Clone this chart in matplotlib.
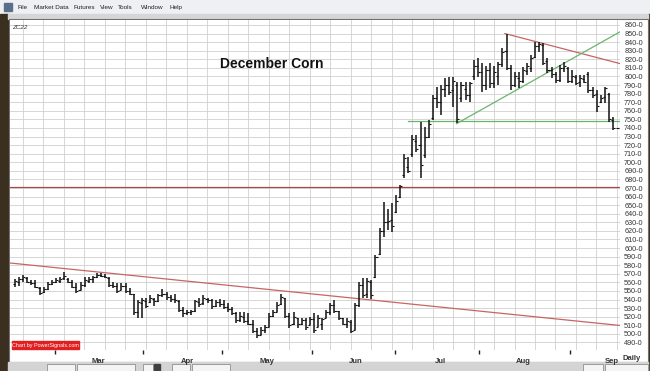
import numpy as np
import matplotlib
matplotlib.use('Agg')
import matplotlib.pyplot as plt
from matplotlib.patches import Rectangle

plt.rcParams['font.family'] = ['Liberation Sans', 'DejaVu Sans']

# Daily OHLC bars, ZCZ2, index = trading day from early Feb
opens = [558, 561, 564, 565, 561, 559, 554, 549, 552, 558, 561, 562, 565, 564, 560, 555, 551, 557, 562, 564,
         566, 569, 567, 565, 557, 556, 551, 556, 550, 547, 526, 536, 538, 537, 541, 538, 545, 547, 543, 541,
         538, 528, 524, 526, 527, 537, 536, 541, 539, 533, 537, 535, 531, 529, 524, 516, 520, 515, 512, 503,
         499, 504, 508, 521, 526, 535, 542, 521, 511, 519, 512, 516, 510, 517, 508, 512, 518, 526, 534, 527,
         518, 512, 514, 505, 534, 557, 546, 561, 566, 593, 620, 630, 633, 642, 660, 685, 694, 710, 725, 720,
         708, 730, 752, 775, 770, 785, 790, 784, 790, 775, 785, 778, 800, 812, 805, 790, 808, 792, 800, 815,
         830, 810, 790, 798, 795, 806, 810, 823, 835, 837, 818, 808, 803, 796, 810, 810, 795, 799, 793, 797,
         803, 784, 780, 770, 776, 780, 749]
highs = [564, 566, 569, 566, 563, 563, 555, 555, 560, 563, 565, 566, 572, 565, 563, 559, 560, 566, 566, 568,
         571, 571, 570, 566, 560, 559, 559, 559, 553, 547, 540, 542, 542, 545, 542, 547, 552, 549, 545, 547,
         540, 531, 528, 528, 540, 542, 545, 542, 541, 540, 541, 540, 536, 531, 525, 525, 525, 524, 516, 507,
         508, 510, 524, 528, 537, 547, 542, 524, 525, 519, 519, 518, 520, 524, 522, 519, 528, 536, 540, 527,
         519, 518, 516, 536, 560, 565, 565, 563, 592, 623, 654, 646, 652, 662, 673, 710, 706, 732, 732, 747,
         741, 749, 778, 788, 790, 798, 799, 799, 794, 794, 793, 794, 819, 822, 816, 812, 816, 812, 817, 833,
         849, 813, 805, 805, 811, 816, 825, 840, 840, 839, 822, 811, 805, 813, 817, 811, 807, 802, 802, 802,
         805, 788, 784, 778, 788, 781, 753]
lows = [555, 556, 561, 559, 557, 553, 545, 548, 551, 557, 559, 559, 563, 559, 553, 548, 551, 555, 559, 559,
        565, 566, 565, 555, 553, 548, 551, 548, 545, 522, 518, 519, 530, 536, 533, 537, 543, 540, 537, 536,
        526, 520, 522, 522, 526, 531, 534, 536, 529, 531, 531, 529, 526, 522, 513, 514, 513, 510, 501, 495,
        499, 501, 508, 520, 526, 534, 518, 507, 510, 507, 510, 504, 510, 501, 508, 504, 518, 522, 524, 516,
        510, 507, 501, 505, 531, 542, 542, 541, 565, 592, 613, 621, 619, 641, 658, 682, 688, 706, 712, 682,
        705, 728, 749, 763, 755, 776, 778, 764, 746, 770, 772, 770, 796, 799, 782, 784, 787, 786, 790, 811,
        808, 784, 788, 787, 792, 802, 805, 822, 829, 813, 804, 798, 792, 794, 805, 792, 792, 790, 788, 792,
        781, 775, 759, 769, 769, 747, 738]
closes = [562, 564, 566, 561, 559, 555, 548, 552, 558, 561, 563, 564, 568, 560, 555, 550, 557, 563, 564, 566,
          569, 568, 566, 557, 556, 550, 556, 550, 547, 525, 537, 539, 533, 542, 538, 545, 547, 543, 541, 539,
          528, 524, 526, 527, 538, 535, 542, 539, 532, 537, 535, 531, 529, 524, 516, 521, 515, 512, 503, 499,
          504, 508, 521, 526, 534, 543, 521, 510, 520, 512, 516, 508, 517, 505, 519, 517, 526, 534, 527, 518,
          512, 515, 503, 534, 557, 545, 562, 545, 590, 620, 630, 632, 626, 655, 672, 705, 690, 727, 715, 697,
          730, 745, 775, 770, 785, 790, 782, 795, 750, 790, 778, 792, 812, 805, 790, 808, 792, 805, 814, 828,
          810, 790, 800, 795, 808, 812, 822, 835, 838, 816, 808, 803, 796, 810, 812, 795, 800, 792, 798, 794,
          784, 778, 765, 775, 786, 750, 740]

# axis labels
price_ticks = list(range(490, 861, 10))
month_names = ['Mar', 'Apr', 'May', 'Jun', 'Jul', 'Aug', 'Sep']
month_idx = [20.3, 42, 61.5, 83.3, 103.8, 124, 145.8]
mid_month_idx = [9.8, 31.3, 50.5, 72.5, 92.8, 113.3, 135.5]

# drawn trend lines (bar index, price)
long_red_x, long_red_y = [-1.2, 147.7], [582.6, 509.8]
top_red_x, top_red_y = [119.6, 147.7], [850, 815]
green_up_x, green_up_y = [107.8, 147.7], [745, 852]
green_flat_x, green_flat_y = [95.9, 147.7], [748, 748]
red_level = 671

W, H = 650, 371
fig = plt.figure(figsize=(W / 100, H / 100), dpi=100)
fig.patch.set_facecolor('#d9d9d9')

# window chrome
bg = fig.add_axes([0, 0, 1, 1])
bg.set_xlim(0, W)
bg.set_ylim(H, 0)
bg.axis('off')
bg.add_patch(Rectangle((0, 0), W, 14, color='#eef0f3'))
bg.add_patch(Rectangle((0, 14), 8, H - 14, color='#3b3020'))
bg.add_patch(Rectangle((648, 14), 2, H - 14, color='#3b3020'))
bg.add_patch(Rectangle((8, 14), 640, 5, color='#d6d6d6'))
bg.add_patch(Rectangle((9, 19), 639, 343, facecolor='white', edgecolor='#707070', lw=0.8))
bg.add_patch(Rectangle((8, 362), 640, 9, color='#d4d4d4'))
for bx, bw in [(47, 28), (77, 58), (143, 10), (172, 18), (192, 38), (583, 20), (605, 43)]:
    bg.add_patch(Rectangle((bx, 364), bw, 8, facecolor='#f4f4f4', edgecolor='#909090', lw=0.6))
bg.add_patch(Rectangle((154, 364), 6, 6, color='#404040'))
bg.add_patch(Rectangle((4, 3), 8, 8, color='#5a6f8a'))
menu = [('File', 17), ('Market Data', 34), ('Futures', 73), ('View', 100), ('Tools', 118),
        ('Window', 141), ('Help', 170)]
for label, mx in menu:
    bg.text(mx, 7.5, label, fontsize=4.6, color='#222222', va='center', ha='left')
bg.text(632, 359, 'Daily', fontsize=5.5, fontweight='bold', color='#333333', va='center', ha='center')

# price chart
ax = fig.add_axes([10 / W, 1 - 350 / H, 610 / W, 330 / H])
ax.set_facecolor('white')
idx = np.arange(len(closes))
ax.set_xlim(-1.22, 147.7)
ax.set_ylim(481.2, 865.8)

for gx in np.arange(1.95, 148, 5):
    ax.axvline(gx, color='#d0d0d0', lw=0.6, zorder=0)
ax.set_yticks(price_ticks)
ax.set_yticklabels([f'{p}-0' for p in price_ticks])
ax.yaxis.tick_right()
ax.grid(axis='y', color='#d0d0d0', lw=0.6, zorder=0)
ax.tick_params(axis='y', length=0, labelsize=5.2, pad=3, labelcolor='#333333')
ax.set_xticks(month_idx)
ax.set_xticklabels(month_names, fontsize=5.5, fontweight='bold', color='#333333')
ax.set_xticks(mid_month_idx, minor=True)
ax.tick_params(axis='x', which='major', length=0, pad=5.5)
ax.tick_params(axis='x', which='minor', length=3, width=1, color='#222222')
for s in ax.spines.values():
    s.set_visible(False)

ax.vlines(idx, lows, highs, color='#111111', lw=1.1, zorder=3)
ax.hlines(opens, idx - 0.5, idx, color='#111111', lw=0.8, zorder=3)
ax.hlines(closes, idx, idx + 0.5, color='#111111', lw=0.8, zorder=3)
ax.hlines(closes[-1], idx[-1] + 0.7, idx[-1] + 1.5, color='#111111', lw=0.8, zorder=3)

ax.plot(long_red_x, long_red_y, color='#c86464', lw=0.9, zorder=2)
ax.plot(top_red_x, top_red_y, color='#c86464', lw=0.9, zorder=2)
ax.axhline(red_level, color='#a84848', lw=0.9, zorder=2)
ax.plot(green_up_x, green_up_y, color='#6cb46c', lw=0.9, zorder=2)
ax.plot(green_flat_x, green_flat_y, color='#6cb46c', lw=0.9, zorder=2)

ax.text(0.004, 0.985, 'ZC22', transform=ax.transAxes, fontsize=4.5, style='italic',
        color='#333333', va='top', ha='left')
ax.text(62.8, 814.5, 'December Corn', fontsize=10, fontweight='bold', color='#111111',
        ha='center', va='center')

# watermark box on top of the chart
top = fig.add_axes([0, 0, 1, 1])
top.set_xlim(0, W)
top.set_ylim(H, 0)
top.axis('off')
top.patch.set_alpha(0)
top.add_patch(Rectangle((12, 341), 67, 8, color='#e02020'))
top.text(45.5, 345, 'Chart by PowerSignals.com', fontsize=3.9, color='white', va='center', ha='center')

fig.savefig('out.png', dpi=100, facecolor=fig.get_facecolor())
